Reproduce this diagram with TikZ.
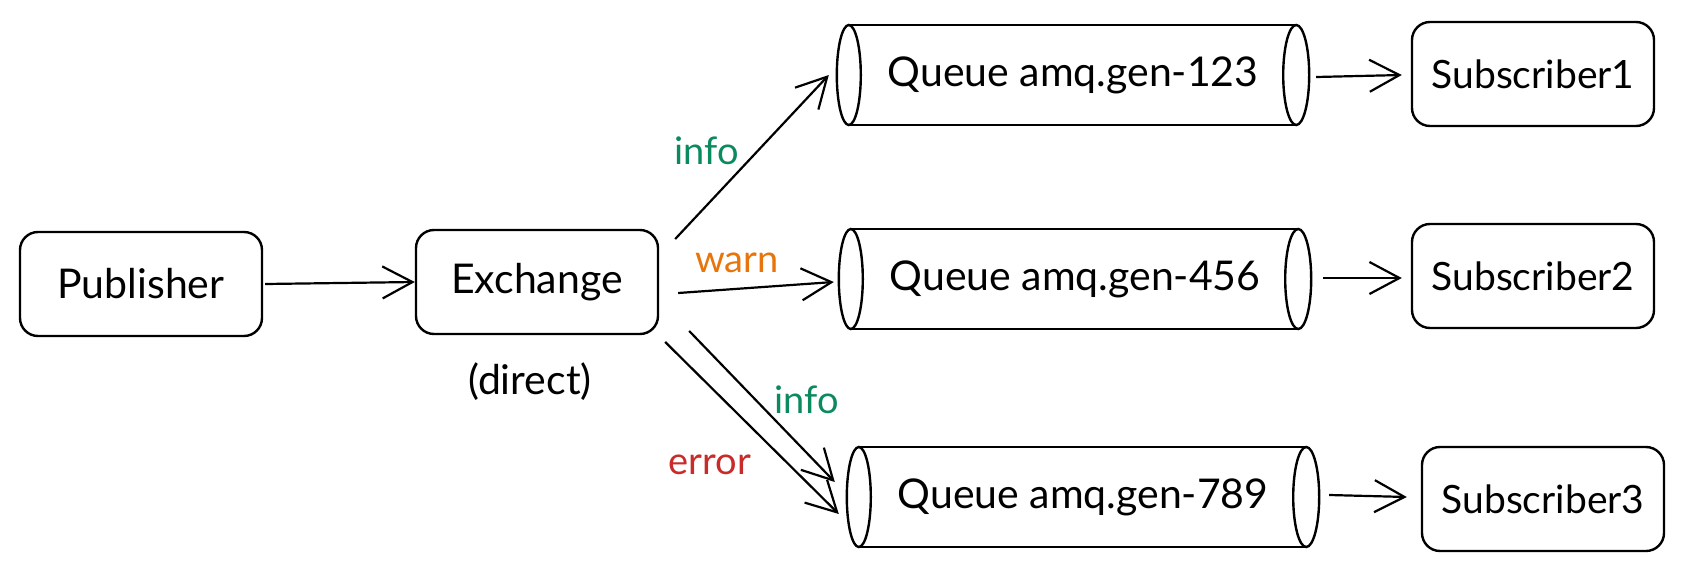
\documentclass[tikz,border=0pt]{standalone}
\usepackage{fontspec}
\setmainfont{Lato}
\usetikzlibrary{arrows.meta,calc}
\definecolor{infogreen}{HTML}{0B8A5F}
\definecolor{warnorange}{HTML}{E8740C}
\definecolor{errred}{HTML}{C92A2A}
\begin{document}
\begin{tikzpicture}[x=1pt,y=-1pt,
  box/.style={draw, line width=2.4pt, rounded corners=18pt, minimum width=242pt, minimum height=104pt, inner sep=0pt, font=\fontsize{41}{44}\selectfont},
  subbox/.style={box, font=\fontsize{39}{42}\selectfont},
  queue/.style={minimum width=472pt, minimum height=100pt, inner sep=0pt, font=\fontsize{41}{44}\selectfont},
  arr/.style={line width=2.2pt, -{Straight Barb[length=30pt,width=32pt,line width=2.2pt]}},
  lab/.style={font=\fontsize{38}{40}\selectfont},
  cyl/.style={line width=2.4pt}]
\useasboundingbox (0,0) rectangle (1687,573);
% nodes
\node[box] (pub) at (141,284) {Publisher};
\node[box] (ex) at (537,282) {Exchange};
\node[font=\fontsize{41}{44}\selectfont] (dir) at (530,382) {(direct)};
\node[queue] (q1) at (1073,75) {Queue amq.gen-123};
\node[queue] (q2) at (1075,279) {Queue amq.gen-456};
\node[queue] (q3) at (1083,497) {Queue amq.gen-789};
\node[subbox] (s1) at (1533,74) {Subscriber1};
\node[subbox] (s2) at (1533,276) {Subscriber2};
\node[subbox] (s3) at (1543,499) {Subscriber3};
% cylinders
\foreach \q in {q1,q2,q3}{
  \draw[cyl] ($(\q.north west)+(12,0)$) -- ($(\q.north east)+(-13,0)$);
  \draw[cyl] ($(\q.south west)+(12,0)$) -- ($(\q.south east)+(-13,0)$);
  \draw[cyl] ($(\q.west)+(12,0)$) ellipse [x radius=12pt, y radius=50pt];
  \draw[cyl] ($(\q.east)+(-13,0)$) ellipse [x radius=13pt, y radius=50pt];
}
% connectors
\draw[arr] ([xshift=2pt]pub.east) -- (ex.west);
\draw[arr] ([shift={(16,-43)}]ex.east) -- ([shift={(-8,0)}]q1.west);
\draw[arr] ([shift={(19,11)}]ex.east) -- ([shift={(-5,3)}]q2.west);
\draw[arr] ([shift={(30,49)}]ex.east) -- ([shift={(-12,-15)}]q3.west);
\draw[arr] ([shift={(6,60)}]ex.east) -- ([shift={(-8,17)}]q3.west);
\draw[arr] ([shift={(7,2)}]q1.east) -- ([shift={(-9,1)}]s1.west);
\draw[arr] ([shift={(12,-1)}]q2.east) -- ([shift={(-9,2)}]s2.west);
\draw[arr] ([shift={(10,-2)}]q3.east) -- ([shift={(-14,-2)}]s3.west);
% labels
\node[lab, text=infogreen] (l1) at (707,151) {info};
\node[lab, text=warnorange] (l2) at (737,263) {warn};
\node[lab, text=infogreen] (l3) at (807,400) {info};
\node[lab, text=errred] (l4) at (710,465) {error};
\end{tikzpicture}
\end{document}
